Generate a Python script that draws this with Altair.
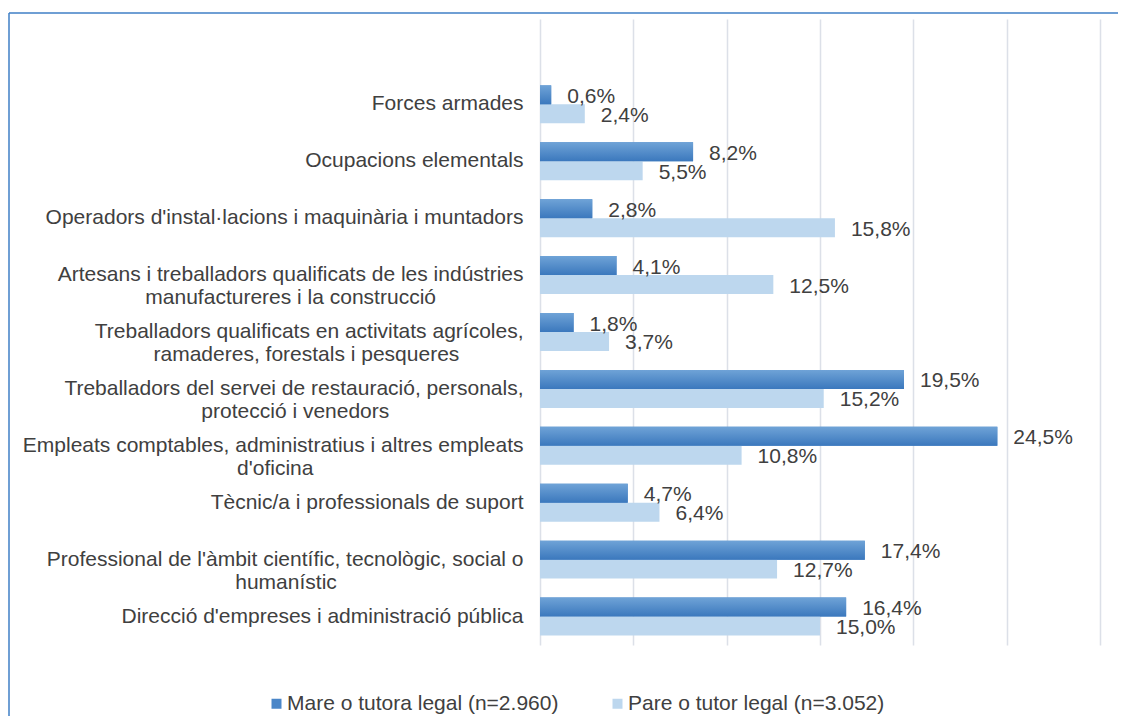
import altair as alt
import pandas as pd

# ---------------- data ----------------
CATEGORY_LINES = [
    ["Forces armades"],
    ["Ocupacions elementals"],
    ["Operadors d'instal·lacions i maquinària i muntadors"],
    ["Artesans i treballadors qualificats de les indústries", "manufactureres i la construcció"],
    ["Treballadors qualificats en activitats agrícoles,", "ramaderes, forestals i pesqueres"],
    ["Treballadors del servei de restauració, personals,", "protecció i venedors"],
    ["Empleats comptables, administratius i altres empleats", "d'oficina"],
    ["Tècnic/a i professionals de suport"],
    ["Professional de l'àmbit científic, tecnològic, social o", "humanístic"],
    ["Direcció d'empreses i administració pública"],
]
MARE = [0.6, 8.2, 2.8, 4.1, 1.8, 19.5, 24.5, 4.7, 17.4, 16.4]
PARE = [2.4, 5.5, 15.8, 12.5, 3.7, 15.2, 10.8, 6.4, 12.7, 15.0]
SERIES = ["Mare o tutora legal (n=2.960)", "Pare o tutor legal (n=3.052)"]
TICKS = [0, 5, 10, 15, 20, 25, 30]

COLORS = ["#4A86C8", "#BDD7EE"]
TEXT = "#404040"
FONT = "Liberation Sans"
BORDER = "#3F7FC6"

# Arial / Liberation Sans advance widths (1/1000 em), used to centre wrapped label lines
W = {" ": 278, "\u00a0": 278, ",": 278, ".": 278, "'": 191, "/": 278, "·": 278,
     "a": 556, "b": 556, "c": 500, "d": 556, "e": 556, "f": 278, "g": 556, "h": 556,
     "i": 222, "j": 222, "k": 500, "l": 222, "m": 833, "n": 556, "o": 556, "p": 556,
     "q": 556, "r": 333, "s": 500, "t": 278, "u": 556, "v": 500, "w": 722, "x": 500,
     "y": 500, "z": 500, "à": 556, "è": 556, "é": 556, "í": 278, "ò": 556, "ó": 556,
     "ú": 556, "ç": 500, "A": 667, "D": 722, "E": 667, "F": 611, "O": 778, "P": 667,
     "T": 611}


def units(s):
    return sum(W.get(ch, 556) for ch in s)


def label_key(lines):
    # right-aligned block whose shorter lines are centred under the longest one:
    # pad the shorter lines with no-break spaces (closed by a zero-width space so
    # that the padding is not trimmed away)
    if len(lines) == 1:
        return lines[0]
    wmax = max(units(l) for l in lines)
    out = []
    for l in lines:
        pad = int(round((wmax - units(l)) / 2 / 278))
        out.append(l + "\u00a0" * pad + ("\u200b" if pad else ""))
    return "\n".join(out)


CATS = [label_key(c) for c in CATEGORY_LINES]
DOMAIN = [""] + CATS

rows = []
for c, m, p in zip(CATS, MARE, PARE):
    rows.append({"cat": c, "series": SERIES[0], "value": m})
    rows.append({"cat": c, "series": SERIES[1], "value": p})
df = pd.DataFrame(rows)

# ---------------- encodings ----------------
x = alt.X("value:Q",
          scale=alt.Scale(domain=[0, 30], nice=False, zero=True),
          axis=alt.Axis(values=TICKS, labels=False, ticks=False, domain=False,
                        grid=True, gridColor="#DCE0E8", gridWidth=1.5, title=None))
y = alt.Y("cat:N",
          scale=alt.Scale(domain=DOMAIN, paddingInner=0.333, paddingOuter=0.1667),
          axis=alt.Axis(title=None, domain=False, ticks=False, grid=False,
                        labelExpr="split(datum.label, '\\n')",
                        labelFontSize=21, labelColor=TEXT, labelFont=FONT,
                        labelPadding=17, labelLineHeight=23, labelLimit=0))
yoff = alt.YOffset("series:N",
                   scale=alt.Scale(domain=SERIES, paddingInner=0, paddingOuter=0))

base = alt.Chart(df)

bars = base.mark_bar().encode(
    x=x, y=y, yOffset=yoff,
    color=alt.Color("series:N",
                    scale=alt.Scale(domain=SERIES, range=COLORS),
                    title=None,
                    legend=alt.Legend(orient="none", legendX=-274, legendY=674,
                                      direction="horizontal", symbolType="square",
                                      symbolSize=100, symbolStrokeWidth=0,
                                      labelFontSize=21, labelFont=FONT,
                                      labelColor=TEXT, labelLimit=0,
                                      labelOffset=0, columnPadding=48, padding=0)),
)

grad = alt.Gradient(gradient="linear",
                    stops=[alt.GradientStop(color="#6FA3D7", offset=0),
                           alt.GradientStop(color="#3B78BD", offset=1)],
                    x1=0, x2=0, y1=0, y2=1)
dark = base.transform_filter(alt.datum.series == SERIES[0]).mark_bar(color=grad).encode(
    x=x, y=y, yOffset=yoff)

labels = base.transform_calculate(
    lbl="replace(format(datum.value, '.1f'), '.', ',') + '%'"
).mark_text(align="left", baseline="middle", dx=16, dy=2, fontSize=21,
            font=FONT, color=TEXT).encode(x=x, y=y, yOffset=yoff, text="lbl:N")

bdf = pd.DataFrame({"k": [0]})
left_border = alt.Chart(bdf).mark_rule(color=BORDER, strokeWidth=1.5).encode(
    x=alt.value(-531), y=alt.value(-6), y2=alt.value(720))
top_border = alt.Chart(bdf).mark_rule(color=BORDER, strokeWidth=1.5).encode(
    x=alt.value(-531), x2=alt.value(700), y=alt.value(-6))

chart = alt.layer(bars, dark, labels, left_border, top_border).properties(
    width=560, height=626,
    autosize=alt.AutoSizeParams(type="none"),
    padding={"left": 532, "top": 11, "right": 18, "bottom": 71},
).configure(font=FONT).configure_view(strokeWidth=0)

chart.save("out.html", embed_options={"renderer": "svg", "actions": False})
